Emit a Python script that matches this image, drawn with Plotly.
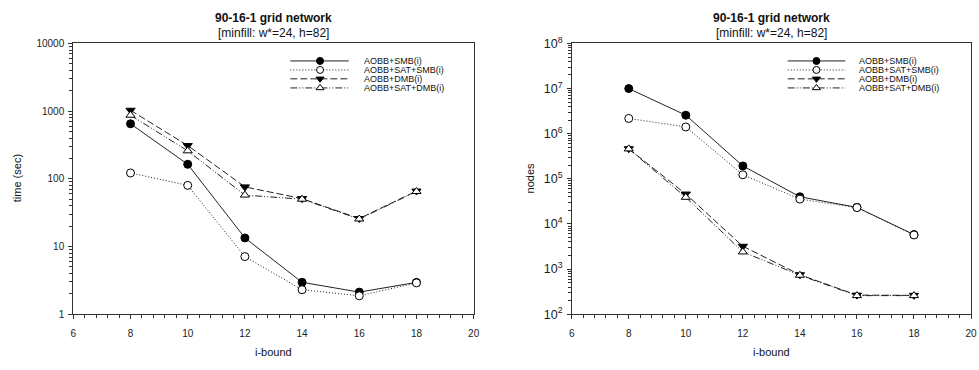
import plotly.graph_objects as go

W, H = 979, 370

# ---- data ----
ibound = [8, 10, 12, 14, 16, 18]
series_names = ["AOBB+SMB(i)", "AOBB+SAT+SMB(i)", "AOBB+DMB(i)", "AOBB+SAT+DMB(i)"]
time_smb = [650, 164, 13.4, 2.96, 2.12, 2.95]
time_sat_smb = [122, 80, 7.1, 2.3, 1.87, 2.9]
time_dmb = [1030, 310, 76, 51, 25.9, 66]
time_sat_dmb = [870, 259, 57.5, 50, 25.5, 65]
nodes_smb = [1.0e7, 2.57e6, 1.93e5, 4.0e4, 2.33e4, 5.8e3]
nodes_sat_smb = [2.18e6, 1.41e6, 1.23e5, 3.55e4, 2.3e4, 5.7e3]
nodes_dmb = [4.65e5, 4.6e4, 3.2e3, 750, 265, 262]
nodes_sat_dmb = [4.6e5, 3.9e4, 2.4e3, 730, 258, 258]

styles = [
    dict(dash="solid", symbol="circle", fill="black"),
    dict(dash="1px,2px", symbol="circle", fill="white"),
    dict(dash="7px,3px", symbol="triangle-down", fill="black"),
    dict(dash="7px,2px,1px,2px,1px,2px", symbol="triangle-up", fill="white"),
]

FONT = "Liberation Sans, Arial, sans-serif"
LC = "#222"

def px(x):
    return x / W

def py(y):
    return 1 - y / H

fig = go.Figure()

left_dom = [px(71), px(475)]
right_dom = [px(574), px(977)]
ydom = [py(319), py(36)]

def add_series(ys_list, xa, ya):
    for name, ys, st in zip(series_names, ys_list, styles):
        fig.add_trace(go.Scatter(
            x=ibound, y=ys, mode="lines+markers", name=name, showlegend=False,
            xaxis=xa, yaxis=ya,
            line=dict(color=LC, width=1, dash=st["dash"]),
            marker=dict(symbol=st["symbol"], size=8, color=st["fill"],
                        line=dict(color="black", width=1)),
            cliponaxis=False,
        ))

add_series([time_smb, time_sat_smb, time_dmb, time_sat_dmb], "x", "y")
add_series([nodes_smb, nodes_sat_smb, nodes_dmb, nodes_sat_dmb], "x2", "y2")

# ---- custom compact legends (overlay axis in pixel space) ----
legend_rows = [54.3, 63.7, 73.0, 82.5]
for (x0, x1, xm, xt) in [(290, 349, 320, 362), (792, 850, 821, 862)]:
    for name, st, yr in zip(series_names, styles, legend_rows):
        fig.add_trace(go.Scatter(
            x=[x0, x1], y=[yr, yr], mode="lines", showlegend=False, hoverinfo="skip",
            xaxis="x3", yaxis="y3",
            line=dict(color=LC, width=1, dash=st["dash"]),
        ))
        fig.add_trace(go.Scatter(
            x=[xm], y=[yr], mode="markers", showlegend=False, hoverinfo="skip",
            xaxis="x3", yaxis="y3",
            marker=dict(symbol=st["symbol"], size=7, color=st["fill"],
                        line=dict(color="black", width=1)),
        ))
        fig.add_annotation(x=px(xt), y=py(yr), xref="paper", yref="paper",
                           text=name, showarrow=False, xanchor="left", yanchor="middle",
                           font=dict(family=FONT, size=9, color="#111"))

axis_common = dict(
    showline=True, linecolor="#333", linewidth=1.2, mirror=True,
    ticks="outside", ticklen=4, tickcolor="#333", showgrid=False, zeroline=False,
    tickfont=dict(family=FONT, size=10, color="#222"),
)
xax = dict(axis_common, range=[6, 20], tick0=6, dtick=2, ticklabelstandoff=6,
           minor=dict(dtick=0.4, tick0=6, ticks="outside", ticklen=3, tickcolor="#333"))
fig.update_layout(
    width=W, height=H, margin=dict(l=0, r=0, t=0, b=0),
    paper_bgcolor="white", plot_bgcolor="rgba(0,0,0,0)",
    xaxis=dict(xax, domain=left_dom, anchor="y"),
    yaxis=dict(axis_common, type="log", range=[0, 4], domain=ydom, anchor="x",
               dtick=1, tickformat="d", ticklabelstandoff=2,
               minor=dict(ticks="outside", ticklen=3, tickcolor="#333")),
    xaxis2=dict(xax, domain=right_dom, anchor="y2"),
    yaxis2=dict(axis_common, type="log", range=[2, 8], domain=ydom, anchor="x2",
                dtick=1, exponentformat="power", showexponent="all", ticklabelstandoff=2,
                minor=dict(ticks="outside", ticklen=3, tickcolor="#333")),
    xaxis3=dict(domain=[0, 1], range=[0, W], visible=False, anchor="y3", fixedrange=True),
    yaxis3=dict(domain=[0, 1], range=[H, 0], visible=False, anchor="x3", fixedrange=True),
    showlegend=False,
)

# titles and axis labels
for cx in [(71 + 475) / 2, (574 + 977) / 2]:
    fig.add_annotation(x=px(cx), y=py(9), xref="paper", yref="paper", showarrow=False,
                       text="<b>90-16-1 grid network</b>", xanchor="center", yanchor="middle",
                       font=dict(family=FONT, size=12, color="#111"))
    fig.add_annotation(x=px(cx), y=py(25), xref="paper", yref="paper", showarrow=False,
                       text="[minfill: w*=24, h=82]", xanchor="center", yanchor="middle",
                       font=dict(family=FONT, size=12, color="#111"))
    fig.add_annotation(x=px(cx), y=py(359), xref="paper", yref="paper", showarrow=False,
                       text="i-bound", xanchor="center", yanchor="middle",
                       font=dict(family=FONT, size=11, color="#111"))

fig.add_annotation(x=px(14), y=py(177), xref="paper", yref="paper", showarrow=False,
                   text="time (sec)", textangle=-90, xanchor="center", yanchor="middle",
                   font=dict(family=FONT, size=11, color="#111"))
fig.add_annotation(x=px(532), y=py(177), xref="paper", yref="paper", showarrow=False,
                   text="nodes", textangle=-90, xanchor="center", yanchor="middle",
                   font=dict(family=FONT, size=11, color="#111"))

fig.write_html("out.html")
